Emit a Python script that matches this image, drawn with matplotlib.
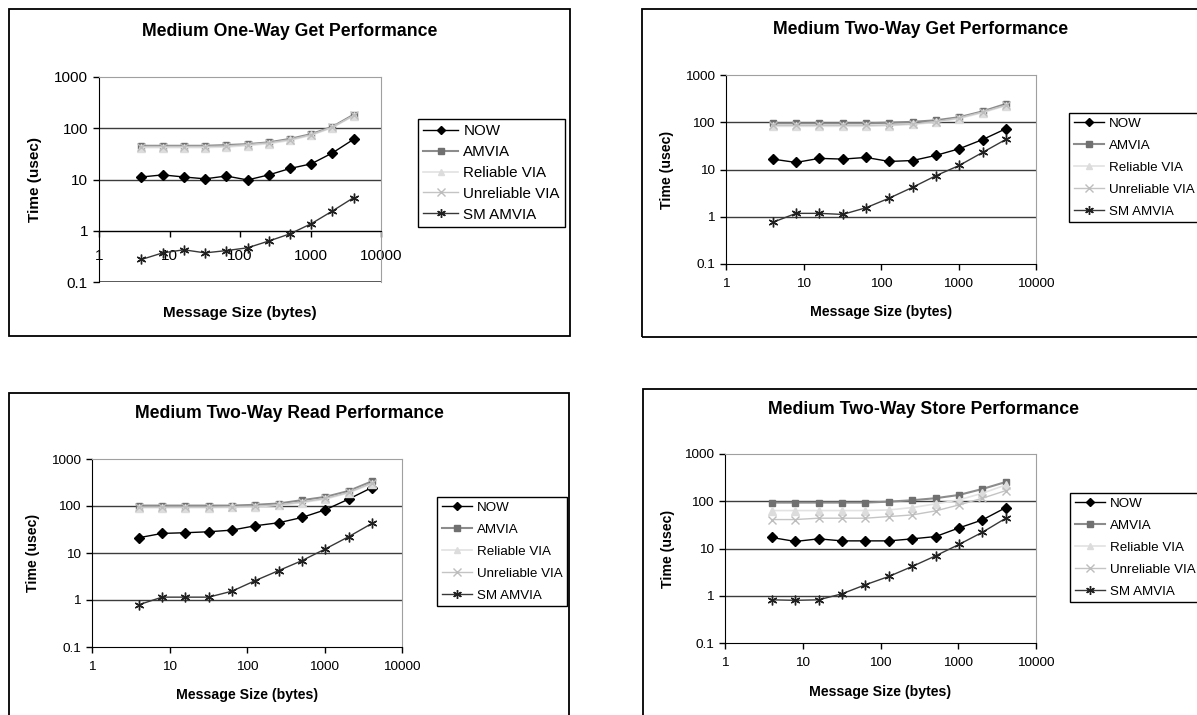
import numpy as np
import matplotlib
matplotlib.use("Agg")
import matplotlib.pyplot as plt
from matplotlib.patches import Rectangle

plt.rcParams['font.family'] = ['Liberation Sans', 'DejaVu Sans']

# message sizes (bytes)
sizes = [4, 8, 16, 32, 64, 128, 256, 512, 1024, 2048, 4096]
series_names = ["NOW", "AMVIA", "Reliable VIA", "Unreliable VIA", "SM AMVIA"]

# Medium One-Way Get (usec)
get1_now = [11.2, 12.3, 11.2, 10.3, 11.7, 9.8, 12.3, 16.4, 20.2, 33, 61]
get1_amvia = [45.5, 45.5, 45.5, 45.5, 47, 49, 53, 62, 77, 107, 184]
get1_rvia = [42, 42, 42, 42, 43, 46, 50, 58, 73, 103, 175]
get1_uvia = [44, 44, 44, 44, 45, 48, 52, 60, 75, 105, 178]
get1_sm = [0.275, 0.37, 0.425, 0.37, 0.41, 0.465, 0.63, 0.87, 1.37, 2.43, 4.43]

# Medium Two-Way Get
get2_now = [16.6, 14.1, 17.2, 16.6, 18, 14.8, 15.5, 19.9, 27.5, 43, 73]
get2_amvia = [95, 95, 95, 95, 95, 98, 102, 110, 128, 170, 245]
get2_rvia = [82, 82, 82, 82, 82, 85, 90, 100, 120, 160, 225]
get2_uvia = [86, 86, 86, 86, 86, 88, 92, 103, 124, 165, 230]
get2_sm = [0.76, 1.18, 1.18, 1.12, 1.55, 2.48, 4.2, 7.4, 12.2, 23, 43.4]

# Medium Two-Way Read
read_now = [21.1, 26.1, 27, 28.3, 30.7, 38, 44, 57, 83, 140, 247]
read_amvia = [102, 102, 102, 102, 102, 106, 113, 133, 156, 209, 335]
read_rvia = [92, 92, 92, 92, 93, 96, 103, 118, 140, 190, 300]
read_uvia = [95, 95, 95, 95, 96, 99, 106, 122, 145, 195, 310]
read_sm = [0.79, 1.15, 1.15, 1.15, 1.54, 2.59, 4.22, 6.88, 12.2, 22.2, 42.6]

# Medium Two-Way Store
store_now = [17.1, 14.1, 16, 14.5, 14.5, 14.5, 16, 17.9, 27.3, 40.3, 73.5]
store_amvia = [93.7, 93.7, 93.7, 93.7, 93.7, 98, 105, 116, 136, 182, 256]
store_rvia = [63.5, 63.5, 63.5, 63.5, 63.5, 65.5, 73.5, 88, 107, 148, 221]
store_uvia = [41, 41, 43.8, 43.8, 43.8, 47.4, 51.4, 62.5, 83.7, 116, 168]
store_sm = [0.82, 0.80, 0.82, 1.1, 1.71, 2.56, 4.17, 7.0, 12.2, 22.1, 43.8]

W, H = 1197, 715
fig = plt.figure(figsize=(W / 100, H / 100), dpi=100)

# line / marker styles for the five series
styles = [
    dict(color='black', lw=1.0, marker='D', ms=5, mfc='black', mec='black'),
    dict(color='#8c8c8c', lw=1.5, marker='s', ms=5, mfc='#707070', mec='#707070'),
    dict(color='#e2e2e2', lw=1.2, marker='^', ms=5.5, mfc='#dcdcdc', mec='#dcdcdc'),
    dict(color='#c4c4c4', lw=1.0, marker='x', ms=6, mew=1.0, mfc='none', mec='#bdbdbd'),
    dict(color='#383838', lw=1.0, marker=(6, 2, 0), ms=7, mew=1.0, mec='#202020'),
]


def fx(px):
    return px / W


def fy(py):
    return 1 - py / H


def draw_panel(frame, axbox, title, title_xy, series, leg_xy, ylab_x, xlab_y,
               tick_fs, lab_fs, leg_fs, leg_space, x_at_one=False, xpad=6):
    # chart-area border
    fig.patches.append(Rectangle((fx(frame[0]), fy(frame[3])),
                                 fx(frame[2] - frame[0]), (frame[3] - frame[1]) / H,
                                 transform=fig.transFigure, fill=False,
                                 ec='black', lw=1.3))
    x0, y0, x1, y1 = axbox
    ax = fig.add_axes([fx(x0), fy(y1), fx(x1 - x0), (y1 - y0) / H])
    ax.set_xscale('log')
    ax.set_yscale('log')
    ax.set_xlim(1, 10000)
    ax.set_ylim(0.1, 1000)
    for v in [1, 10, 100]:
        ax.axhline(v, color='#3c3c3c', lw=1.0, zorder=1)
    for vals, name, st in zip(series, series_names, styles):
        ax.plot(sizes, vals, label=name, zorder=3, clip_on=False, **st)
    ax.set_xticks([1, 10, 100, 1000, 10000])
    ax.set_xticklabels(['1', '10', '100', '1000', '10000'])
    ax.set_yticks([0.1, 1, 10, 100, 1000])
    ax.set_yticklabels(['0.1', '1', '10', '100', '1000'])
    ax.minorticks_off()
    ax.tick_params(axis='both', direction='out', length=4, width=1,
                   labelsize=tick_fs, color='black')
    ax.tick_params(axis='y', pad=4)
    ax.tick_params(axis='x', pad=xpad)
    ax.spines['top'].set_color('#a0a0a0')
    ax.spines['right'].set_color('#a0a0a0')
    ax.spines['left'].set_color('black')
    ax.spines['bottom'].set_color('black')
    if x_at_one:
        # x axis crosses the value axis at 1
        ax.spines['bottom'].set_position(('data', 1))
        ax.axhline(0.1, color='#3c3c3c', lw=1.2, zorder=1)
    fig.text(fx(title_xy[0]), fy(title_xy[1]), title, ha='center', va='center',
             fontsize=12.7, fontweight='bold')
    fig.text(fx(ylab_x), fy((y0 + y1) / 2), 'Time (usec)', rotation=90,
             ha='center', va='center', fontsize=lab_fs, fontweight='bold')
    fig.text(fx((x0 + x1) / 2), fy(xlab_y), 'Message Size (bytes)',
             ha='center', va='center', fontsize=lab_fs, fontweight='bold')
    leg = ax.legend(loc='upper left', bbox_to_anchor=(fx(leg_xy[0]), fy(leg_xy[1])),
                    bbox_transform=fig.transFigure, borderaxespad=0,
                    fontsize=leg_fs, frameon=True, fancybox=False,
                    edgecolor='black', framealpha=1, labelspacing=leg_space,
                    handlelength=2.3, handletextpad=0.35, borderpad=0.35,
                    markerscale=0.9)
    leg.get_frame().set_linewidth(1.0)
    return ax


draw_panel((9, 9, 570, 336), (99, 77, 381, 282),
           'Medium One-Way Get Performance', (290, 32),
           [get1_now, get1_amvia, get1_rvia, get1_uvia, get1_sm],
           (418, 119), 35, 313, 11, 11, 10.9, 0.45, x_at_one=True, xpad=9)

draw_panel((642, 9, 1205, 337), (726, 75, 1036, 264),
           'Medium Two-Way Get Performance', (921, 30),
           [get2_now, get2_amvia, get2_rvia, get2_uvia, get2_sm],
           (1069, 113), 667, 312, 9.7, 10.2, 9.6, 0.72)

draw_panel((9, 393, 569, 730), (92, 459, 402, 647),
           'Medium Two-Way Read Performance', (289, 413),
           [read_now, read_amvia, read_rvia, read_uvia, read_sm],
           (437, 497), 33, 695, 9.7, 10.2, 9.6, 0.72)

draw_panel((643, 389, 1205, 730), (725, 454, 1036, 643),
           'Medium Two-Way Store Performance', (923, 410),
           [store_now, store_amvia, store_rvia, store_uvia, store_sm],
           (1070, 493), 668, 692, 9.7, 10.2, 9.6, 0.72)

fig.savefig('out.png', dpi=100)
